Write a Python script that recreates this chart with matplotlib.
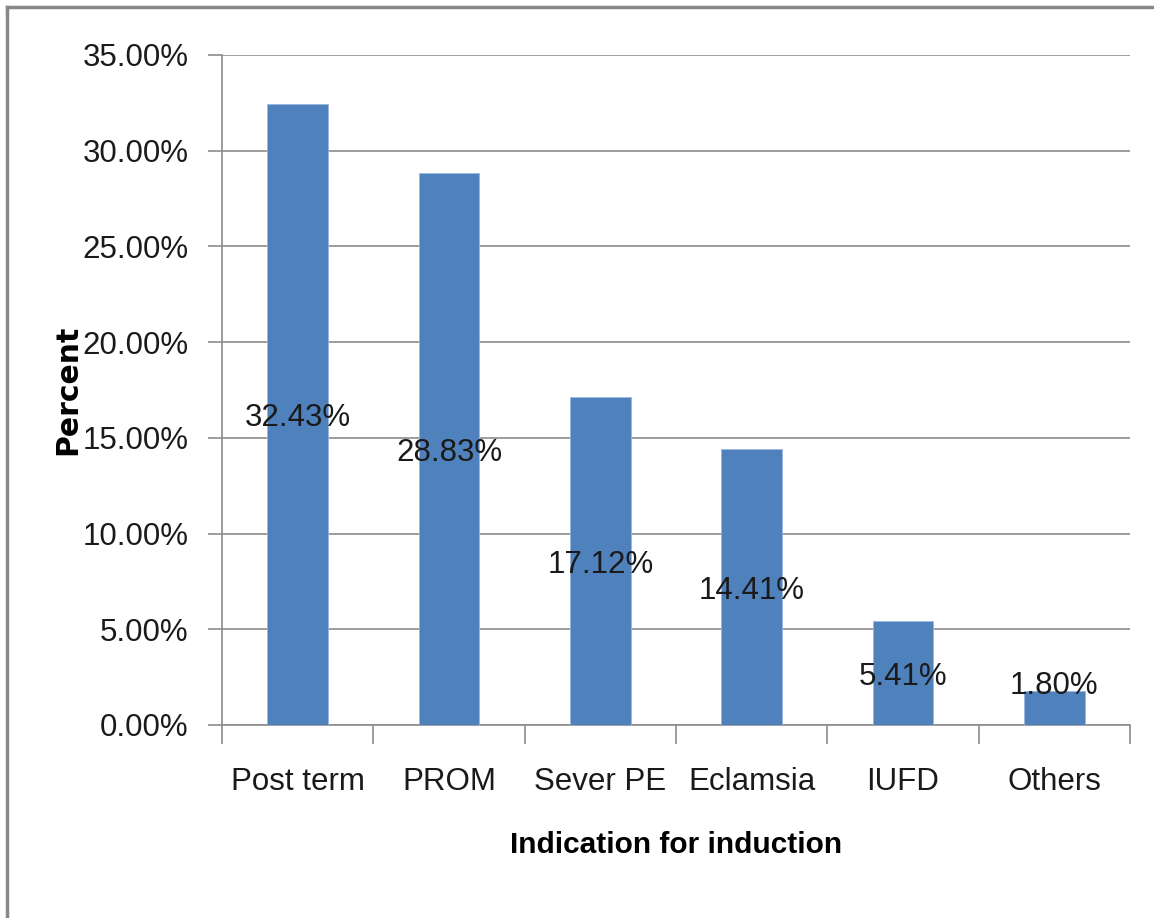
import numpy as np
import matplotlib.pyplot as plt
from matplotlib.lines import Line2D
from matplotlib.ticker import FixedLocator, FuncFormatter

plt.rcParams['font.family'] = ['Liberation Sans', 'DejaVu Sans']

categories = ['Post term', 'PROM', 'Sever PE', 'Eclamsia', 'IUFD', 'Others']
percent = [32.43, 28.83, 17.12, 14.41, 5.41, 1.80]
y_ticks = [0, 5, 10, 15, 20, 25, 30, 35]

bar_color = '#4f81bd'
grid_color = '#8c8c8c'
text_color = '#1a1a1a'
fs = 22.5

fig = plt.figure(figsize=(11.54, 9.18), dpi=100)
ax = fig.add_axes([222/1154, 1-725/918, 908/1154, 670/918])

x = np.arange(len(categories))
ax.bar(x, percent, width=0.4, color=bar_color, edgecolor='#9bb7dc', linewidth=0.6, zorder=3)

# value labels sit in the middle of each bar, kept clear of the baseline
for xi, v in zip(x, percent):
    ax.text(xi, max(v / 2, 2.2), '%.2f%%' % v, ha='center', va='center_baseline',
            fontsize=fs, color=text_color, zorder=4)

ax.set_xlim(-0.5, len(categories) - 0.5)
ax.set_ylim(0, 35)
ax.yaxis.set_major_locator(FixedLocator(y_ticks))
ax.yaxis.set_major_formatter(FuncFormatter(lambda v, p: '%.2f%%' % v))
ax.grid(axis='y', color=grid_color, linewidth=1.2, zorder=1)
ax.set_axisbelow(True)

# category labels centred on bars, tick marks between categories
ax.set_xticks(x)
ax.set_xticklabels(categories)
ax.set_xticks(np.arange(len(categories) + 1) - 0.5, minor=True)
ax.tick_params(axis='x', which='major', length=0, pad=30, labelsize=fs, labelcolor=text_color)
ax.tick_params(axis='x', which='minor', length=14, width=1.2, color=grid_color)
ax.tick_params(axis='y', length=10, width=1.2, color=grid_color, pad=14,
               labelsize=fs, labelcolor=text_color)

for s in ['top', 'right']:
    ax.spines[s].set_visible(False)
for s in ['left', 'bottom']:
    ax.spines[s].set_color(grid_color)
    ax.spines[s].set_linewidth(1.2)

ax.set_xlabel('Indication for induction', fontsize=21.5, fontweight='bold', labelpad=25)
fig.text(68/1154, 1-390/918, 'Percent', rotation=90, ha='center', va='center',
         fontsize=21.5, fontweight='bold', family=['DejaVu Sans'])

# outer frame along top and left edge
fig.add_artist(Line2D([7/1154, 7/1154], [0, 1-7/918], transform=fig.transFigure,
                      color='#888888', linewidth=2.5))
fig.add_artist(Line2D([7/1154, 1], [1-7/918, 1-7/918], transform=fig.transFigure,
                      color='#888888', linewidth=2.5))

fig.savefig('out.png', dpi=100)
